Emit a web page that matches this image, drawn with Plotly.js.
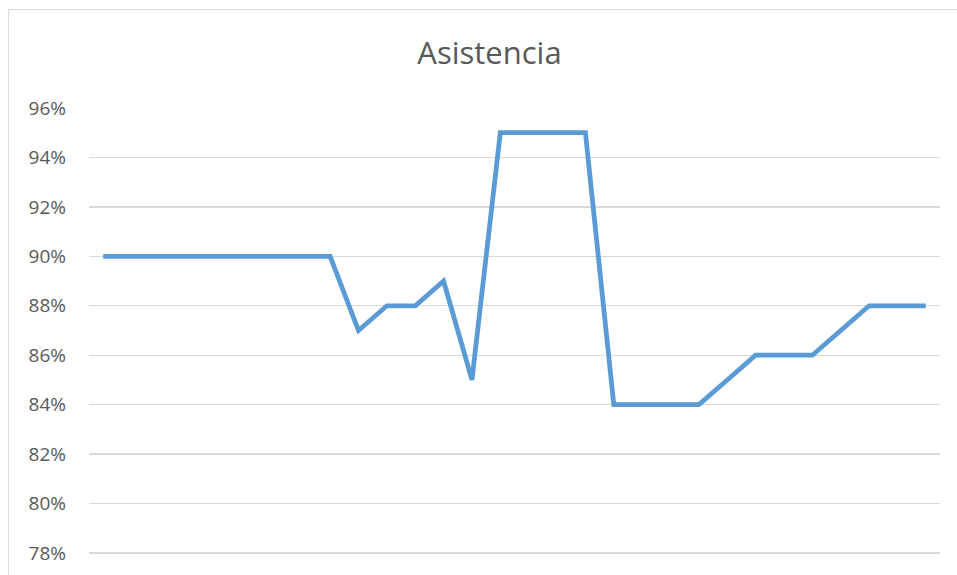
<!DOCTYPE html>
<html>
<head>
<meta charset="utf-8">
<script src="https://cdn.plot.ly/plotly-3.0.1.min.js"></script>
<style>
  html, body { margin: 0; padding: 0; background: #ffffff; }
  #chart { width: 957px; height: 575px; }
</style>
</head>
<body>
<div id="chart"></div>
<script>
// Attendance rate per session
const sessions = Array.from({length: 30}, (_, i) => String(i + 1));
const attendance = [
  0.90, 0.90, 0.90, 0.90, 0.90, 0.90, 0.90, 0.90, 0.90, 0.87,
  0.88, 0.88, 0.89, 0.85, 0.95, 0.95, 0.95, 0.95, 0.84, 0.84,
  0.84, 0.84, 0.85, 0.86, 0.86, 0.86, 0.87, 0.88, 0.88, 0.88
];
const yTicks = [0.78, 0.80, 0.82, 0.84, 0.86, 0.88, 0.90, 0.92, 0.94, 0.96];

const W = 957, H = 575;
const mL = 89, mR = 17, mT = 108, mB = 20;
const plotW = W - mL - mR, plotH = H - mT - mB;
// small pad below 78% so its gridline is still drawn
const yMin = 0.78 - 0.18 * 2 / 445;
// chart frame drawn in paper coordinates
const frameX0 = (8.5 - mL) / plotW;
const frameY1 = 1 + (mT - 9.5) / plotH;

const trace = {
  x: sessions,
  y: attendance,
  type: 'scatter',
  mode: 'lines',
  line: { color: '#5B9BD5', width: 4.8, shape: 'linear' },
  hoverinfo: 'y'
};

const layout = {
  width: W,
  height: H,
  margin: { l: mL, r: mR, t: mT, b: mB, pad: 0 },
  paper_bgcolor: '#ffffff',
  plot_bgcolor: '#ffffff',
  showlegend: false,
  title: {
    text: 'Asistencia',
    font: { family: 'Open Sans, Liberation Sans, sans-serif', size: 31, color: '#595959' },
    x: 489.5 / W, xref: 'container', xanchor: 'center',
    y: 1 - 53 / H, yref: 'container', yanchor: 'middle'
  },
  xaxis: {
    type: 'category',
    range: [-0.5, 29.5],
    showticklabels: false,
    showgrid: false,
    zeroline: false,
    showline: false,
    ticks: ''
  },
  yaxis: {
    range: [yMin, 0.96],
    tickvals: yTicks,
    tickformat: '.0%',
    showgrid: true,
    gridcolor: '#d9d9d9',
    gridwidth: 1.3,
    zeroline: false,
    showline: false,
    ticks: '',
    ticklabelstandoff: 22,
    tickfont: { family: 'Open Sans, Liberation Sans, sans-serif', size: 19, color: '#595959' }
  },
  shapes: [{
    type: 'rect',
    xref: 'paper', yref: 'paper',
    x0: frameX0, x1: 1.2,
    y0: -0.2, y1: frameY1,
    line: { color: '#d9d9d9', width: 1 },
    fillcolor: 'rgba(0,0,0,0)',
    layer: 'below'
  }]
};

Plotly.newPlot('chart', [trace], layout, { displayModeBar: false, staticPlot: true });
</script>
</body>
</html>
